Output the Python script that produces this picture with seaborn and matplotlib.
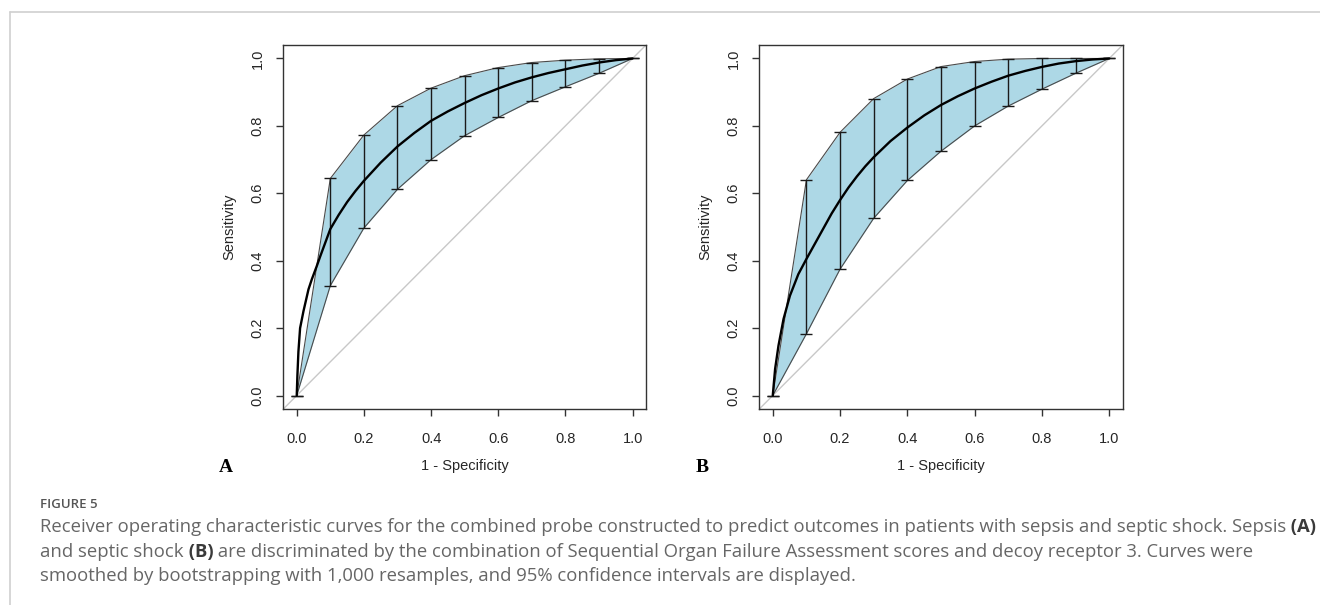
import numpy as np
import pandas as pd
import matplotlib
matplotlib.use("Agg")
import matplotlib.pyplot as plt
from matplotlib.lines import Line2D
import seaborn as sns

# ---------------- data ----------------
ci_fpr = [0.0, 0.1, 0.2, 0.3, 0.4, 0.5, 0.6, 0.7, 0.8, 0.9, 1.0]

a_upper = [0.0, 0.644, 0.773, 0.860, 0.912, 0.949, 0.973, 0.988, 0.995, 0.999, 1.0]
a_lower = [0.0, 0.326, 0.497, 0.612, 0.700, 0.771, 0.825, 0.875, 0.916, 0.956, 1.0]
b_upper = [0.0, 0.640, 0.781, 0.881, 0.939, 0.976, 0.991, 0.998, 1.0, 1.0, 1.0]
b_lower = [0.0, 0.183, 0.375, 0.526, 0.638, 0.725, 0.800, 0.859, 0.909, 0.956, 1.0]

a_curve_fpr = [0.0, 0.002, 0.005, 0.01, 0.02, 0.035, 0.045, 0.06, 0.07, 0.08, 0.1,
               0.125, 0.15, 0.175, 0.2, 0.25, 0.3, 0.35, 0.4, 0.45, 0.5, 0.55,
               0.6, 0.65, 0.7, 0.75, 0.8, 0.85, 0.9, 0.95, 1.0]
a_curve_sens = [0.0, 0.06, 0.13, 0.20, 0.25, 0.315, 0.345, 0.385, 0.413, 0.44, 0.494,
                0.536, 0.574, 0.607, 0.637, 0.691, 0.739, 0.779, 0.815, 0.843, 0.868, 0.891,
                0.911, 0.929, 0.944, 0.957, 0.968, 0.979, 0.988, 0.995, 1.0]

b_curve_fpr = [0.0, 0.007, 0.017, 0.032, 0.051, 0.076, 0.1, 0.125, 0.15, 0.175, 0.2,
               0.225, 0.25, 0.275, 0.3, 0.35, 0.4, 0.45, 0.5, 0.55, 0.6, 0.65,
               0.7, 0.75, 0.8, 0.85, 0.9, 0.95, 1.0]
b_curve_sens = [0.0, 0.079, 0.148, 0.227, 0.296, 0.36, 0.405, 0.45, 0.495, 0.54, 0.58,
                0.617, 0.65, 0.68, 0.707, 0.755, 0.795, 0.831, 0.862, 0.888, 0.911, 0.931,
                0.949, 0.963, 0.975, 0.985, 0.992, 0.997, 1.0]

ticks = [0.0, 0.2, 0.4, 0.6, 0.8, 1.0]
tick_labels = ["0.0", "0.2", "0.4", "0.6", "0.8", "1.0"]
panel_letters = ["A", "B"]
x_label = "1 - Specificity"
y_label = "Sensitivity"

caption_title = "FIGURE 5"
caption_lines = [
    [("Receiver operating characteristic curves for the combined probe constructed to predict outcomes in patients with sepsis and septic shock. Sepsis", False),
     (" (A)", True)],
    [("and septic shock", False), (" (B)", True),
     (" are discriminated by the combination of Sequential Organ Failure Assessment scores and decoy receptor 3. Curves were", False)],
    [("smoothed by bootstrapping with 1,000 resamples, and 95% confidence intervals are displayed.", False)],
]

# ---------------- style ----------------
sns.set_theme(style="white")
plt.rcParams["font.family"] = ["Liberation Sans", "DejaVu Sans"]

W, H = 1320, 605
fig = plt.figure(figsize=(W / 100, H / 100), dpi=100)
fig.patch.set_facecolor("white")

def fx(px):
    return px / W

def fy(py):
    return 1 - py / H

# outer light border (top and left)
fig.add_artist(Line2D([fx(9.5), 1.0], [fy(11.5), fy(11.5)], color="#d0d0d0", lw=1.2,
                      transform=fig.transFigure))
fig.add_artist(Line2D([fx(9.5), fx(9.5)], [fy(11.5), 0.0], color="#d0d0d0", lw=1.2,
                      transform=fig.transFigure))

axes_px = [(283.3, 45, 646.0, 409), (759.3, 45, 1122.7, 409)]
letter_pos = [(226, 468), (702, 468)]
panels = [
    (a_curve_fpr, a_curve_sens, a_lower, a_upper),
    (b_curve_fpr, b_curve_sens, b_lower, b_upper),
]

text_col = "#262626"
for i, (cx, cy, lo, up) in enumerate(panels):
    l, t, r, b = axes_px[i]
    ax = fig.add_axes([fx(l), fy(b), fx(r) - fx(l), (b - t) / H])
    ax.set_facecolor("white")

    # confidence band
    ax.fill_between(ci_fpr, lo, up, color="#ADD8E6", lw=0, zorder=1)
    band_df = pd.DataFrame({"x": ci_fpr + ci_fpr, "y": lo + up,
                            "edge": ["lo"] * len(lo) + ["up"] * len(up)})
    sns.lineplot(data=band_df, x="x", y="y", units="edge", estimator=None,
                 color="#4a4a4a", lw=0.8, ax=ax, zorder=2, sort=False)

    # diagonal
    ax.axline((0, 0), slope=1, color="#c8c8c8", lw=1.0, zorder=1.5)

    # error bars
    lo_a = np.array(lo)
    up_a = np.array(up)
    ax.errorbar(ci_fpr, lo_a, yerr=[np.zeros_like(lo_a), up_a - lo_a], fmt="none",
                ecolor="#1a1a1a", elinewidth=1.0, capsize=4.0, capthick=1.0, zorder=3)

    # smoothed ROC curve
    curve_df = pd.DataFrame({"fpr": cx, "sens": cy})
    sns.lineplot(data=curve_df, x="fpr", y="sens", color="black", lw=1.7,
                 estimator=None, sort=False, ax=ax, zorder=4)

    ax.set_xlim(-0.04, 1.04)
    ax.set_ylim(-0.04, 1.04)
    ax.set_xticks(ticks)
    ax.set_xticklabels(tick_labels)
    ax.set_yticks(ticks)
    ax.set_yticklabels(tick_labels, rotation=90, va="center")
    for sp in ax.spines.values():
        sp.set_visible(True)
        sp.set_color("#333333")
        sp.set_linewidth(1.0)
    ax.tick_params(axis="both", direction="out", length=5, width=1.0, color="#333333",
                   labelsize=10.5, labelcolor=text_col, bottom=True, left=True)
    ax.tick_params(axis="x", pad=11.5)
    ax.tick_params(axis="y", pad=8.5)
    ax.set_xlabel(x_label, fontsize=10.5, color=text_col)
    ax.set_ylabel(y_label, fontsize=10.5, color=text_col)
    ax.xaxis.set_label_coords(0.5, (b - 466) / (b - t))
    ax.xaxis.label.set_va("center")
    ax.yaxis.set_label_coords(-54.3 / (r - l), 0.5)
    ax.yaxis.label.set_va("center")

    lx, ly = letter_pos[i]
    fig.text(fx(lx), fy(ly), panel_letters[i], ha="center", va="center",
             fontsize=14, fontweight="bold", family=["Liberation Serif", "DejaVu Serif"],
             color="black")

# ---------------- caption ----------------
cap_family = ["Open Sans", "DejaVu Sans"]
fig.text(fx(40), fy(508), caption_title, ha="left", va="baseline", fontsize=9.5,
         fontweight="semibold", family=cap_family, color="#555555")

renderer = fig.canvas.get_renderer()

def line_width(segs, size):
    w = 0
    for s, bold in segs:
        t = fig.text(0, 0, s, fontsize=size, family=cap_family,
                     fontweight="bold" if bold else "normal")
        w += t.get_window_extent(renderer).width
        t.remove()
    return w

base = 12.0
target = 1303 - 40
size = base * target / line_width(caption_lines[0], base)

baselines = [532, 557, 581]
for segs, yb in zip(caption_lines, baselines):
    xcur = 40.0
    for s, bold in segs:
        t = fig.text(fx(xcur), fy(yb), s, ha="left", va="baseline", fontsize=size,
                     family=cap_family, fontweight="bold" if bold else "normal",
                     color="#3a3a3a" if bold else "#666666")
        xcur += t.get_window_extent(renderer).width

fig.savefig("out.png", dpi=100)
